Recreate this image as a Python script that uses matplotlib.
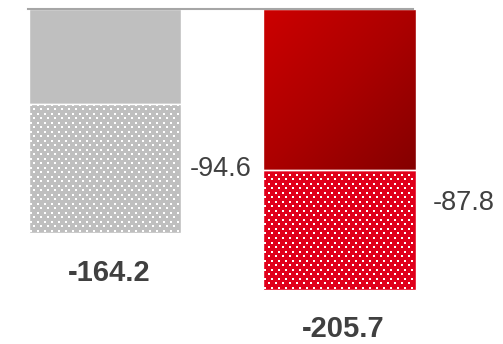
import numpy as np
import matplotlib.pyplot as plt
from matplotlib.colors import LinearSegmentedColormap

# data
categories = ['A', 'B']
top_values = [-69.6, -117.9]
bottom_values = [-94.6, -87.8]
totals = [-164.2, -205.7]

plt.rcParams['font.family'] = ['Liberation Sans', 'DejaVu Sans']

TEXT = '#404040'
GRAY = '#BFBFBF'
RED_DOT = '#E0001B'
BAR_W = 0.65

fig = plt.figure(figsize=(5.03, 3.44), dpi=100)
ax = fig.add_axes([0, 0, 1, 1])
ax.axis('off')


def dots(ax, x0, y0, w, h, clip):
    # staggered white dot texture inside a bar
    dx, dy = 0.0299, 3.3
    xs, ys = [], []
    for i, y in enumerate(np.arange(y0 + dy / 2, y0 + h, dy)):
        off = dx / 2 if i % 2 else 0
        for x in np.arange(x0 + dx / 4 + off, x0 + w, dx):
            xs.append(x)
            ys.append(y)
    sc = ax.scatter(xs, ys, s=2.4, marker='s', color='white', linewidths=0, zorder=4)
    sc.set_clip_path(clip)


x = np.arange(len(categories))

# top segments
ax.bar(x[0], top_values[0], width=BAR_W, color=GRAY, edgecolor='white', linewidth=1, zorder=2)
red_bar = ax.bar(x[1], top_values[1], width=BAR_W, color='none', edgecolor='white', linewidth=1, zorder=3)[0]
grad_cmap = LinearSegmentedColormap.from_list('grad', ['#CC0000', '#AC0000', '#850000'])
g = np.add.outer(np.linspace(0, 1, 100), np.linspace(0, 1, 100)) / 2
im = ax.imshow(g, cmap=grad_cmap, extent=(x[1] - BAR_W / 2, x[1] + BAR_W / 2, top_values[1], 0),
               origin='upper', aspect='auto', zorder=2)
im.set_clip_path(red_bar)

# bottom dotted segments
colors = [GRAY, RED_DOT]
for i in range(len(categories)):
    b = ax.bar(x[i], bottom_values[i], bottom=top_values[i], width=BAR_W, color=colors[i],
               edgecolor='white', linewidth=1, zorder=2)[0]
    dots(ax, x[i] - BAR_W / 2, totals[i], BAR_W, -bottom_values[i], b)

ax.set_xlim(-0.448, 1.697)
ax.set_ylim(-245.4, 6.6)

# baseline
ax.axhline(0, xmin=0.0557, xmax=0.821, color='#A6A6A6', linewidth=1.5, zorder=5)

# segment labels
ax.text(x[0] + BAR_W / 2 + 0.037, top_values[0] + bottom_values[0] / 2, f'{bottom_values[0]:.1f}',
        ha='left', va='center', fontsize=19.5, color=TEXT)
ax.text(x[1] + BAR_W / 2 + 0.072, top_values[1] + bottom_values[1] / 2 + 19.5, f'{bottom_values[1]:.1f}',
        ha='left', va='center', fontsize=19.5, color=TEXT)

# totals
for i in range(len(categories)):
    ax.text(x[i] + 0.017, totals[i] - 29, f'{totals[i]:.1f}', ha='center', va='center',
            fontsize=21, fontweight='bold', color=TEXT)

fig.savefig('out.png', dpi=100)
